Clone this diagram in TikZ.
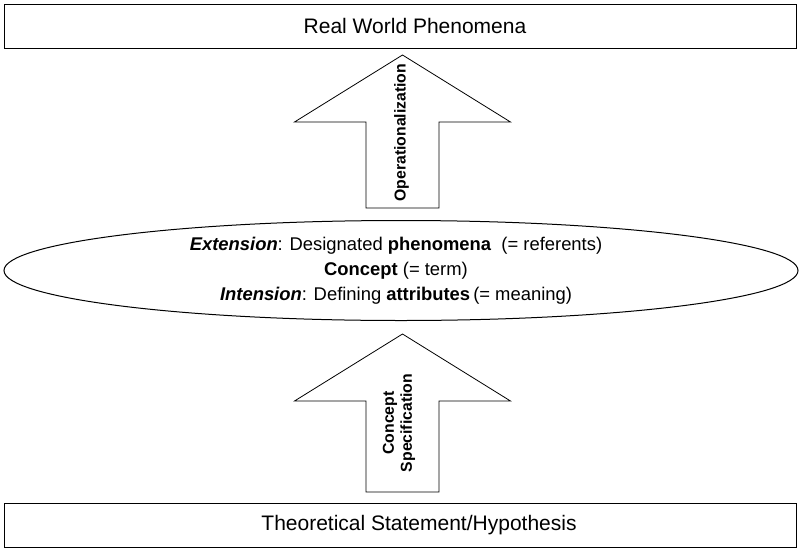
\documentclass[tikz,border=0pt]{standalone}
\usepackage{fontspec}
\setmainfont{Liberation Sans}
\usetikzlibrary{shapes.geometric}

\begin{document}
\begin{tikzpicture}[x = 1pt, y = -1pt,
  box/.style = {draw, line width = 1pt, minimum width = 792pt, minimum height = 44pt, inner sep = 0pt},
  boxtext/.style = {inner sep = 0pt, font = \fontsize{21}{25}\selectfont},
  arrowtext/.style = {rotate = 90, align = center, inner sep = 0pt, font = \fontsize{15.8}{18}\selectfont\bfseries}]
\useasboundingbox (0,0) rectangle (800,549);
\pgfmathsetmacro{\cx}{402.5} % arrow axis
\pgfmathsetmacro{\s}{36.5} % half shaft width
\pgfmathsetmacro{\w}{108} % half head width
\pgfmathsetmacro{\l}{67} % head length
\node[box] (world) at (400,26) {};
\node[boxtext] (worldtext) at ([xshift = 15pt]world.center) {Real World Phenomena};
\node[box] (theory) at (400,525) {};
\node[boxtext] (theorytext) at ([xshift = 19pt]theory.center) {Theoretical Statement/Hypothesis};
\node[draw, ellipse, line width = 1pt, minimum width = 794pt, minimum height = 100pt, inner sep = 0pt] (concept) at (401,270.5) {};
\node[align = center, inner sep = 0pt, font = \fontsize{18.4}{25}\selectfont] (concepttext) at ([xshift = -5pt]concept.center)
  {\textbf{\textit{Extension}}: Designated \textbf{phenomena}~ (= referents)\\
   \textbf{Concept} (= term)\\
   \textbf{\textit{Intension}}: Defining \textbf{attributes}\,(= meaning)};
\foreach \tip/\bot in {55/208, 334/492}
  \draw[line width = 0.8pt] (\cx, \tip) -- (\cx + \w, \tip + \l) -- (\cx + \s, \tip + \l) -- (\cx + \s, \bot) -- (\cx - \s, \bot) -- (\cx - \s, \tip + \l) -- (\cx - \w, \tip + \l) -- cycle;
\node[arrowtext] (oper) at (\cx - 1, 132.7) {Operationalization};
\node[arrowtext] (spec) at (\cx - 3.5, 423) {Concept\\Specification};
\end{tikzpicture}
\end{document}
